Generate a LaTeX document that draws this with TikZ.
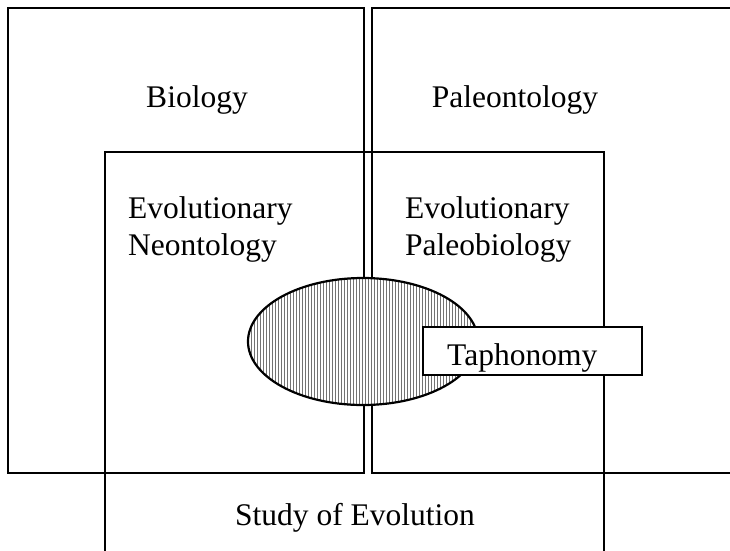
\documentclass[tikz,border=0pt]{standalone}
\usepackage{fontspec}
\setmainfont{Liberation Serif}
\usetikzlibrary{shapes.geometric}
\begin{document}
\begin{tikzpicture}[x=1pt,y=-1pt,
  box/.style={draw, line width=2.2pt, inner sep=0pt},
  lbl/.style={font=\fontsize{31.5}{37}\selectfont, inner sep=0pt, align=left},
  hatch/.style={black!55, line width=0.9pt}]
\useasboundingbox (0,0) rectangle (730,550);
\clip (0,0) rectangle (730,550);
\fill[white] (0,0) rectangle (730,550);
% boxes
\node[box, minimum width=356pt, minimum height=465pt] (bio) at (186,240.5) {};
\node[box, minimum width=388pt, minimum height=465pt] (pal) at (566,240.5) {};
\node[box, minimum width=499pt, minimum height=428pt] (evo) at (354.5,366) {};
% labels
\node[lbl, anchor=base] (biot) at (197,107) {Biology};
\node[lbl, anchor=base] (palt) at (515,107) {Paleontology};
\node[lbl, anchor=base west] (neo1) at (128,218) {Evolutionary};
\node[lbl, anchor=base west] (neo2) at (128,255) {Neontology};
\node[lbl, anchor=base west] (pb1) at (405,218) {Evolutionary};
\node[lbl, anchor=base west] (pb2) at (405,255) {Paleobiology};
\node[lbl, anchor=base] (evot) at (355,525) {Study of Evolution};
% hatched ellipse
\begin{scope}
  \clip (363,341.5) ellipse [x radius=115, y radius=63.5];
  \fill[white] (363,341.5) ellipse [x radius=115, y radius=63.5];
  \foreach \i in {0,...,78} {
    \draw[hatch] (248+3*\i,270) -- (248+3*\i,410);
  }
\end{scope}
\node[draw, line width=2.2pt, ellipse, minimum width=230pt, minimum height=127pt, inner sep=0pt] (ell) at (363,341.5) {};
% taphonomy
\node[box, fill=white, minimum width=219pt, minimum height=48pt] (tap) at (532.5,351) {};
\node[lbl, anchor=base west] (tapt) at (447,365) {Taphonomy};
\end{tikzpicture}
\end{document}
